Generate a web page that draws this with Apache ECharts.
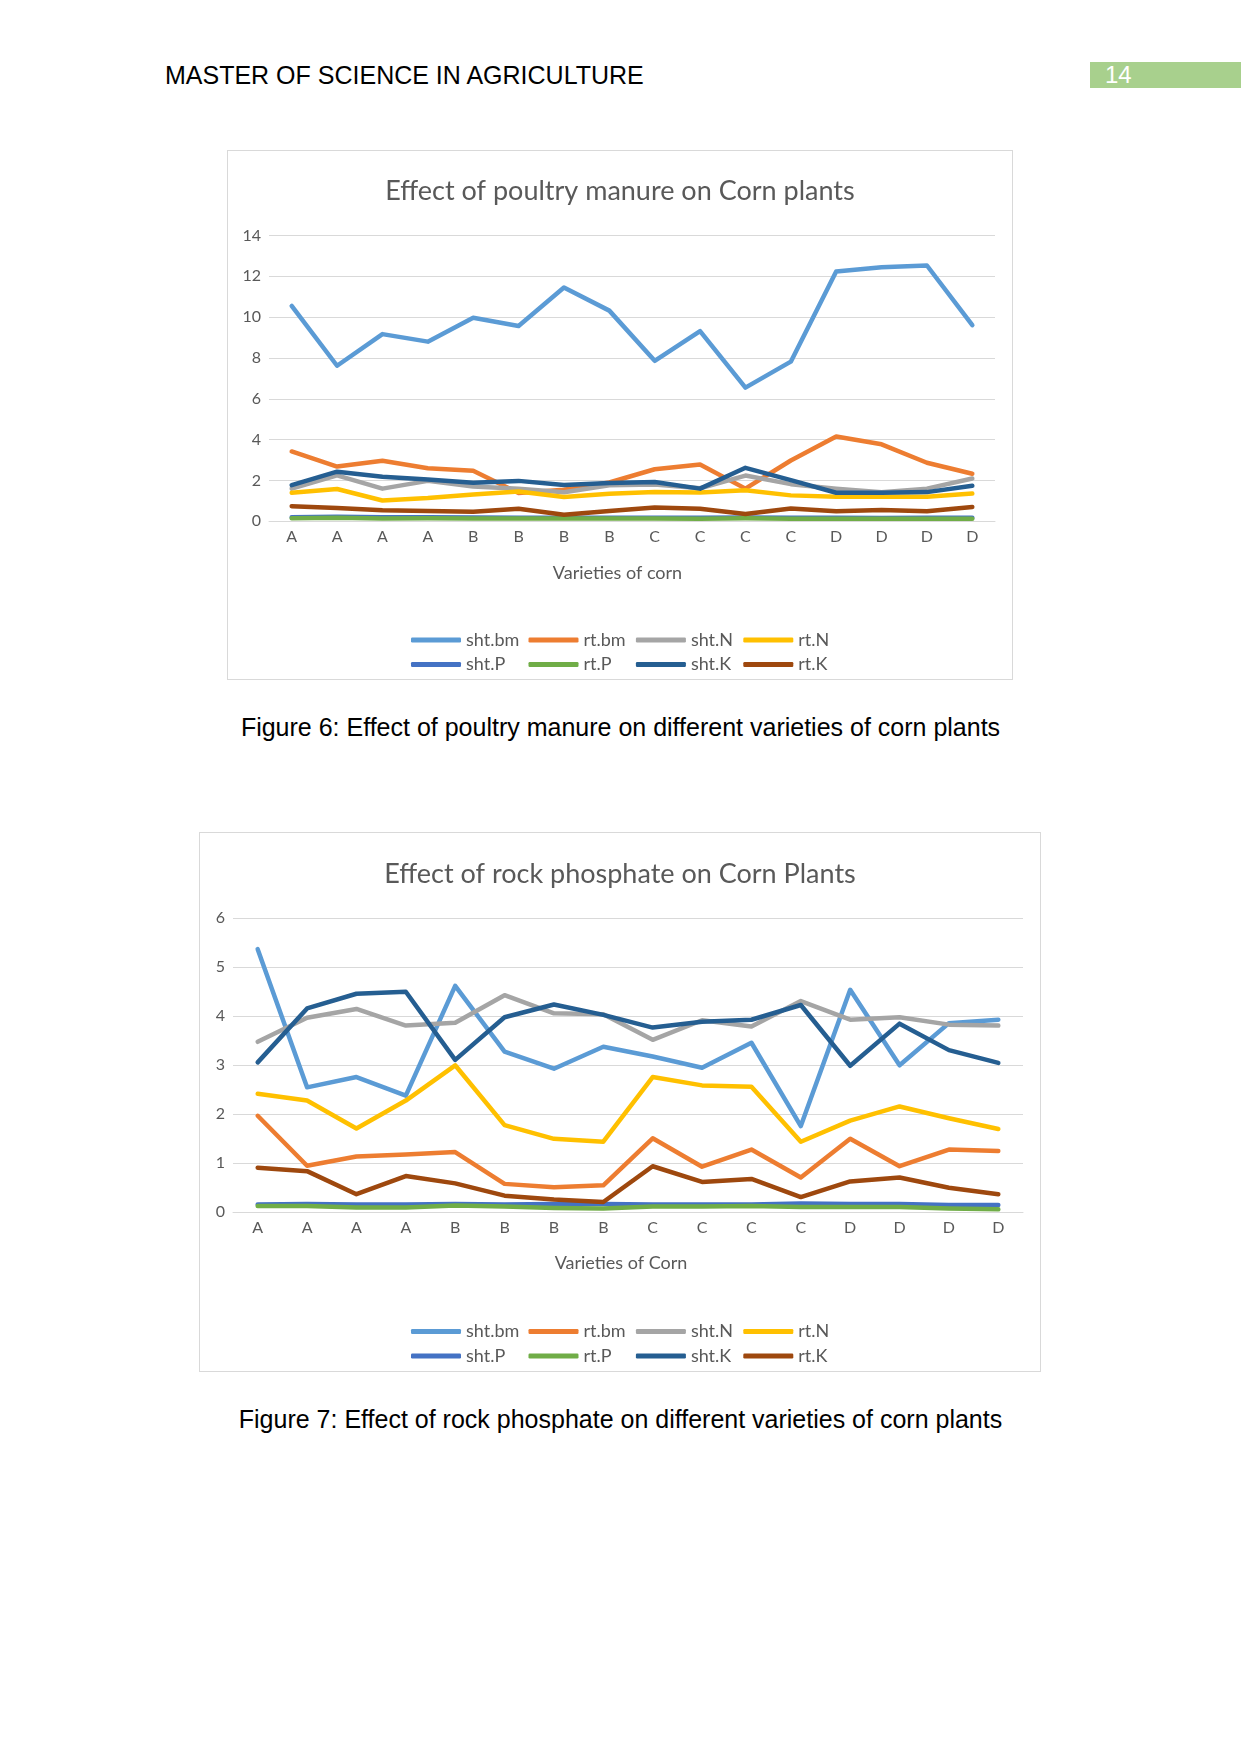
<!DOCTYPE html>
<html>
<head>
<meta charset="utf-8">
<script src="https://cdn.jsdelivr.net/npm/echarts@6/dist/echarts.min.js"></script>
<style>
  html, body { margin: 0; padding: 0; background: #fff; }
  body { width: 1241px; height: 1754px; position: relative; overflow: hidden; }
  .txt { position: absolute; font-family: "Liberation Sans", Arial, sans-serif; color: #000; white-space: nowrap; line-height: 29px; }
  .box { position: absolute; border: 1px solid #D9D9D9; box-sizing: border-box; pointer-events: none; }
  .chart { position: absolute; }
</style>
</head>
<body>
<div class="txt" id="hdr" style="left:165px; top:61px; font-size:25px;">MASTER OF SCIENCE IN AGRICULTURE</div>
<div style="position:absolute; left:1090px; top:62px; width:151px; height:26px; background:#A8D08D;"></div>
<div class="txt" style="left:1105px; top:62px; font-size:24px; color:#fff; line-height:26px;">14</div>

<div class="chart" id="c1" style="left:227px; top:150px; width:786px; height:530px;"></div>
<div class="box" style="left:227px; top:150px; width:786px; height:530px;"></div>
<div class="txt" id="cap1" style="left:0; width:1241px; text-align:center; top:713px; font-size:25px;">Figure 6: Effect of poultry manure on different varieties of corn plants</div>

<div class="chart" id="c2" style="left:199px; top:832px; width:842px; height:540px;"></div>
<div class="box" style="left:199px; top:832px; width:842px; height:540px;"></div>
<div class="txt" id="cap2" style="left:0; width:1241px; text-align:center; top:1405px; font-size:25px;">Figure 7: Effect of rock phosphate on different varieties of corn plants</div>

<script>
// ---------- data ----------
const categories = ['A','A','A','A','B','B','B','B','C','C','C','C','D','D','D','D'];
const seriesNames = ['sht.bm','rt.bm','sht.N','rt.N','sht.P','rt.P','sht.K','rt.K'];
const seriesColors = ['#5B9BD5','#ED7D31','#A5A5A5','#FFC000','#4472C4','#70AD47','#255E91','#9E480E'];

// Figure 6: poultry manure
const pm_sht_bm = [10.55, 7.62, 9.17, 8.8, 9.97, 9.57, 11.45, 10.32, 7.86, 9.32, 6.55, 7.82, 12.24, 12.44, 12.53, 9.61];
const pm_rt_bm  = [3.42, 2.68, 2.97, 2.6, 2.48, 1.39, 1.55, 1.9, 2.55, 2.78, 1.6, 2.98, 4.15, 3.77, 2.87, 2.33];
const pm_sht_N  = [1.6, 2.25, 1.6, 1.98, 1.7, 1.6, 1.42, 1.77, 1.8, 1.62, 2.24, 1.82, 1.6, 1.42, 1.6, 2.1];
const pm_rt_N   = [1.4, 1.58, 1.02, 1.14, 1.31, 1.46, 1.19, 1.35, 1.44, 1.41, 1.52, 1.27, 1.2, 1.2, 1.2, 1.36];
const pm_sht_P  = [0.2, 0.22, 0.2, 0.2, 0.19, 0.18, 0.17, 0.18, 0.18, 0.17, 0.19, 0.18, 0.17, 0.16, 0.17, 0.17];
const pm_rt_P   = [0.15, 0.18, 0.14, 0.15, 0.14, 0.14, 0.14, 0.14, 0.14, 0.13, 0.15, 0.13, 0.13, 0.12, 0.13, 0.13];
const pm_sht_K  = [1.77, 2.43, 2.18, 2.05, 1.89, 1.98, 1.78, 1.88, 1.93, 1.6, 2.62, 2.02, 1.4, 1.4, 1.43, 1.74];
const pm_rt_K   = [0.74, 0.65, 0.54, 0.5, 0.47, 0.61, 0.32, 0.5, 0.68, 0.62, 0.36, 0.63, 0.49, 0.55, 0.49, 0.7];

// Figure 7: rock phosphate
const rp_sht_bm = [5.37, 2.55, 2.76, 2.38, 4.62, 3.28, 2.93, 3.38, 3.18, 2.95, 3.46, 1.76, 4.54, 3.0, 3.86, 3.93];
const rp_rt_bm  = [1.97, 0.95, 1.14, 1.18, 1.23, 0.58, 0.51, 0.55, 1.51, 0.93, 1.28, 0.71, 1.5, 0.94, 1.28, 1.25];
const rp_sht_N  = [3.48, 3.97, 4.15, 3.81, 3.87, 4.43, 4.06, 4.04, 3.52, 3.92, 3.79, 4.31, 3.93, 3.98, 3.83, 3.81];
const rp_rt_N   = [2.42, 2.28, 1.71, 2.28, 3.0, 1.78, 1.5, 1.44, 2.76, 2.59, 2.56, 1.44, 1.87, 2.16, 1.92, 1.7];
const rp_sht_P  = [0.16, 0.17, 0.16, 0.16, 0.17, 0.16, 0.17, 0.17, 0.16, 0.16, 0.16, 0.18, 0.17, 0.17, 0.15, 0.15];
const rp_rt_P   = [0.13, 0.13, 0.1, 0.1, 0.14, 0.12, 0.09, 0.08, 0.12, 0.12, 0.13, 0.11, 0.11, 0.11, 0.08, 0.06];
const rp_sht_K  = [3.06, 4.16, 4.46, 4.5, 3.11, 3.98, 4.24, 4.03, 3.77, 3.89, 3.93, 4.23, 2.99, 3.85, 3.31, 3.05];
const rp_rt_K   = [0.91, 0.84, 0.37, 0.74, 0.59, 0.34, 0.26, 0.21, 0.94, 0.62, 0.68, 0.31, 0.63, 0.71, 0.5, 0.37];

const pmData = [pm_sht_bm, pm_rt_bm, pm_sht_N, pm_rt_N, pm_sht_P, pm_rt_P, pm_sht_K, pm_rt_K];
const rpData = [rp_sht_bm, rp_rt_bm, rp_sht_N, rp_rt_N, rp_sht_P, rp_rt_P, rp_sht_K, rp_rt_K];

const FONT = 'Lato, "Open Sans", sans-serif';
const TXT = '#595959';
const GRID = '#D9D9D9';
// legend column offsets relative to the first column
const colOffsets = [0, 117.5, 224.9, 332.3];

function buildOption(cfg) {
  const legends = seriesNames.map((n, i) => ({
    left: cfg.legendLeft + colOffsets[i % 4],
    top: i < 4 ? cfg.legendTop1 : cfg.legendTop2,
    orient: 'horizontal',
    icon: 'roundRect',
    itemWidth: 50,
    itemHeight: 5,
    padding: 0,
    selectedMode: false,
    data: [n],
    textStyle: { fontFamily: FONT, fontSize: 18, color: TXT }
  }));
  return {
    animation: false,
    color: seriesColors,
    title: {
      text: cfg.title,
      left: 'center',
      top: cfg.titleTop,
      textStyle: { fontFamily: FONT, fontSize: 27, fontWeight: 'normal', color: TXT }
    },
    legend: legends,
    grid: { left: cfg.gl, right: cfg.gr, top: cfg.gt, bottom: cfg.gb, containLabel: false },
    xAxis: {
      type: 'category',
      data: categories,
      boundaryGap: true,
      name: cfg.xName,
      nameLocation: 'middle',
      nameGap: cfg.nameGap,
      nameTextStyle: { fontFamily: FONT, fontSize: 18, color: TXT, padding: [0, cfg.namePadR, 0, 0] },
      axisLine: { lineStyle: { color: GRID, width: 1 } },
      axisTick: { show: false },
      axisLabel: { interval: 0, fontFamily: FONT, fontSize: 16, color: TXT, margin: 8 }
    },
    yAxis: {
      type: 'value',
      min: 0,
      max: cfg.ymax,
      interval: cfg.yint,
      axisLine: { show: false },
      axisTick: { show: false },
      splitLine: { lineStyle: { color: GRID, width: 1 } },
      axisLabel: { fontFamily: FONT, fontSize: 16, color: TXT, margin: 8 }
    },
    series: seriesNames.map((n, i) => ({
      name: n,
      type: 'line',
      data: cfg.data[i],
      symbol: 'none',
      smooth: false,
      lineStyle: { width: 4.5, color: seriesColors[i], cap: 'round', join: 'round' },
      itemStyle: { color: seriesColors[i] }
    }))
  };
}

const c1 = echarts.init(document.getElementById('c1'), null, { renderer: 'canvas' });
c1.setOption(buildOption({
  title: 'Effect of poultry manure on Corn plants',
  titleTop: 23,
  xName: 'Varieties of corn',
  nameGap: 43,
  namePadR: 29,
  ymax: 14, yint: 2,
  gl: 42, gr: 18, gt: 85.5, gb: 158.7,
  legendLeft: 184, legendTop1: 481, legendTop2: 505.5,
  data: pmData
}));

const c2 = echarts.init(document.getElementById('c2'), null, { renderer: 'canvas' });
c2.setOption(buildOption({
  title: 'Effect of rock phosphate on Corn Plants',
  titleTop: 24,
  xName: 'Varieties of Corn',
  nameGap: 42,
  namePadR: 14,
  ymax: 6, yint: 1,
  gl: 34, gr: 18, gt: 86.3, gb: 159.7,
  legendLeft: 212, legendTop1: 490.5, legendTop2: 515,
  data: rpData
}));
</script>
</body>
</html>
